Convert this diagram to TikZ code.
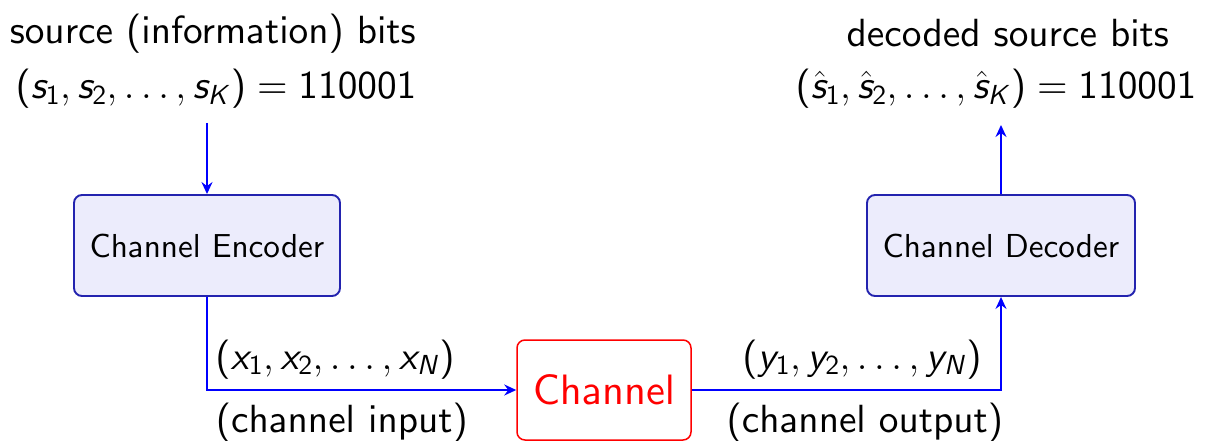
\documentclass[tikz,border=0pt]{standalone}
\usepackage{fix-cm}
\usetikzlibrary{arrows.meta}
\DeclareFontFamily{OT1}{mycmss}{}
\DeclareFontShape{OT1}{mycmss}{m}{n}{<->cmss10}{}
\DeclareFontShape{OT1}{mycmss}{m}{sl}{<->cmssi10}{}
\DeclareSymbolFont{sfletters}{OT1}{mycmss}{m}{sl}
\DeclareSymbolFont{sfop}{OT1}{mycmss}{m}{n}
\DeclareMathSymbol{s}{\mathalpha}{sfletters}{`s}
\DeclareMathSymbol{x}{\mathalpha}{sfletters}{`x}
\DeclareMathSymbol{y}{\mathalpha}{sfletters}{`y}
\DeclareMathSymbol{K}{\mathalpha}{sfletters}{`K}
\DeclareMathSymbol{N}{\mathalpha}{sfletters}{`N}
\DeclareMathSymbol{0}{\mathalpha}{sfop}{`0}
\DeclareMathSymbol{1}{\mathalpha}{sfop}{`1}
\DeclareMathSymbol{2}{\mathalpha}{sfop}{`2}
\DeclareMathSymbol{(}{\mathopen}{sfop}{`(}
\DeclareMathSymbol{)}{\mathclose}{sfop}{`)}
\DeclareMathSymbol{=}{\mathrel}{sfop}{`=}
\newcommand\mysans{\fontencoding{OT1}\fontfamily{mycmss}\fontseries{m}\fontshape{n}\selectfont}
\definecolor{boxborder}{RGB}{35,35,175}
\definecolor{boxfill}{RGB}{236,236,252}
\begin{document}
\begin{tikzpicture}[x=1pt,y=-1pt,
  blk/.style={draw=boxborder, fill=boxfill, rounded corners=8pt, line width=1.9pt,
    minimum width=266pt, minimum height=101pt, inner sep=0pt,
    font=\fontsize{33.2}{40}\mysans},
  chanbox/.style={draw=red, fill=white, rounded corners=8pt, line width=1.5pt,
    minimum width=174pt, minimum height=100pt, inner sep=0pt, text=red,
    font=\fontsize{42.5}{50}\mysans},
  lbl/.style={inner sep=0pt, anchor=base, font=\fontsize{39.3}{47}\mysans},
  conn/.style={draw=blue, line width=1.8pt, -{Stealth[length=12pt,width=11pt,inset=4pt]}}
]
\useasboundingbox (0,0) rectangle (1216,441);
\node[blk] (enc) at (207,245.5) {Channel Encoder};
\node[blk, minimum width=268pt] (dec) at (1001,245.5) {Channel Decoder};
\node[chanbox] (chan) at (604,390) {Channel};
\node[lbl] (src1) at (213,44) {source (information) bits};
\node[lbl] (src2) at (216,99) {$(s_1, s_2, \ldots, s_K) = 110001$};
\node[lbl] (dcd1) at (1008,47) {decoded source bits};
\node[lbl] (dcd2) at (996,99) {$(\hat{s}_1, \hat{s}_2, \ldots, \hat{s}_K) = 110001$};
\node[lbl] (xlab) at (335,369) {$(x_1, x_2, \ldots, x_N)$};
\node[lbl] (cin) at (342,432) {(channel input)};
\node[lbl] (ylab) at (862,369) {$(y_1, y_2, \ldots, y_N)$};
\node[lbl] (cout) at (865,432) {(channel output)};
\coordinate (s1) at (207,123);
\coordinate (d1) at (1001,125);
\draw[conn] (s1) -- (enc.north);
\draw[conn] (enc.south) |- (chan.west);
\draw[conn] (chan.east) -| (dec.south);
\draw[conn] (dec.north) -- (d1);
\end{tikzpicture}
\end{document}
